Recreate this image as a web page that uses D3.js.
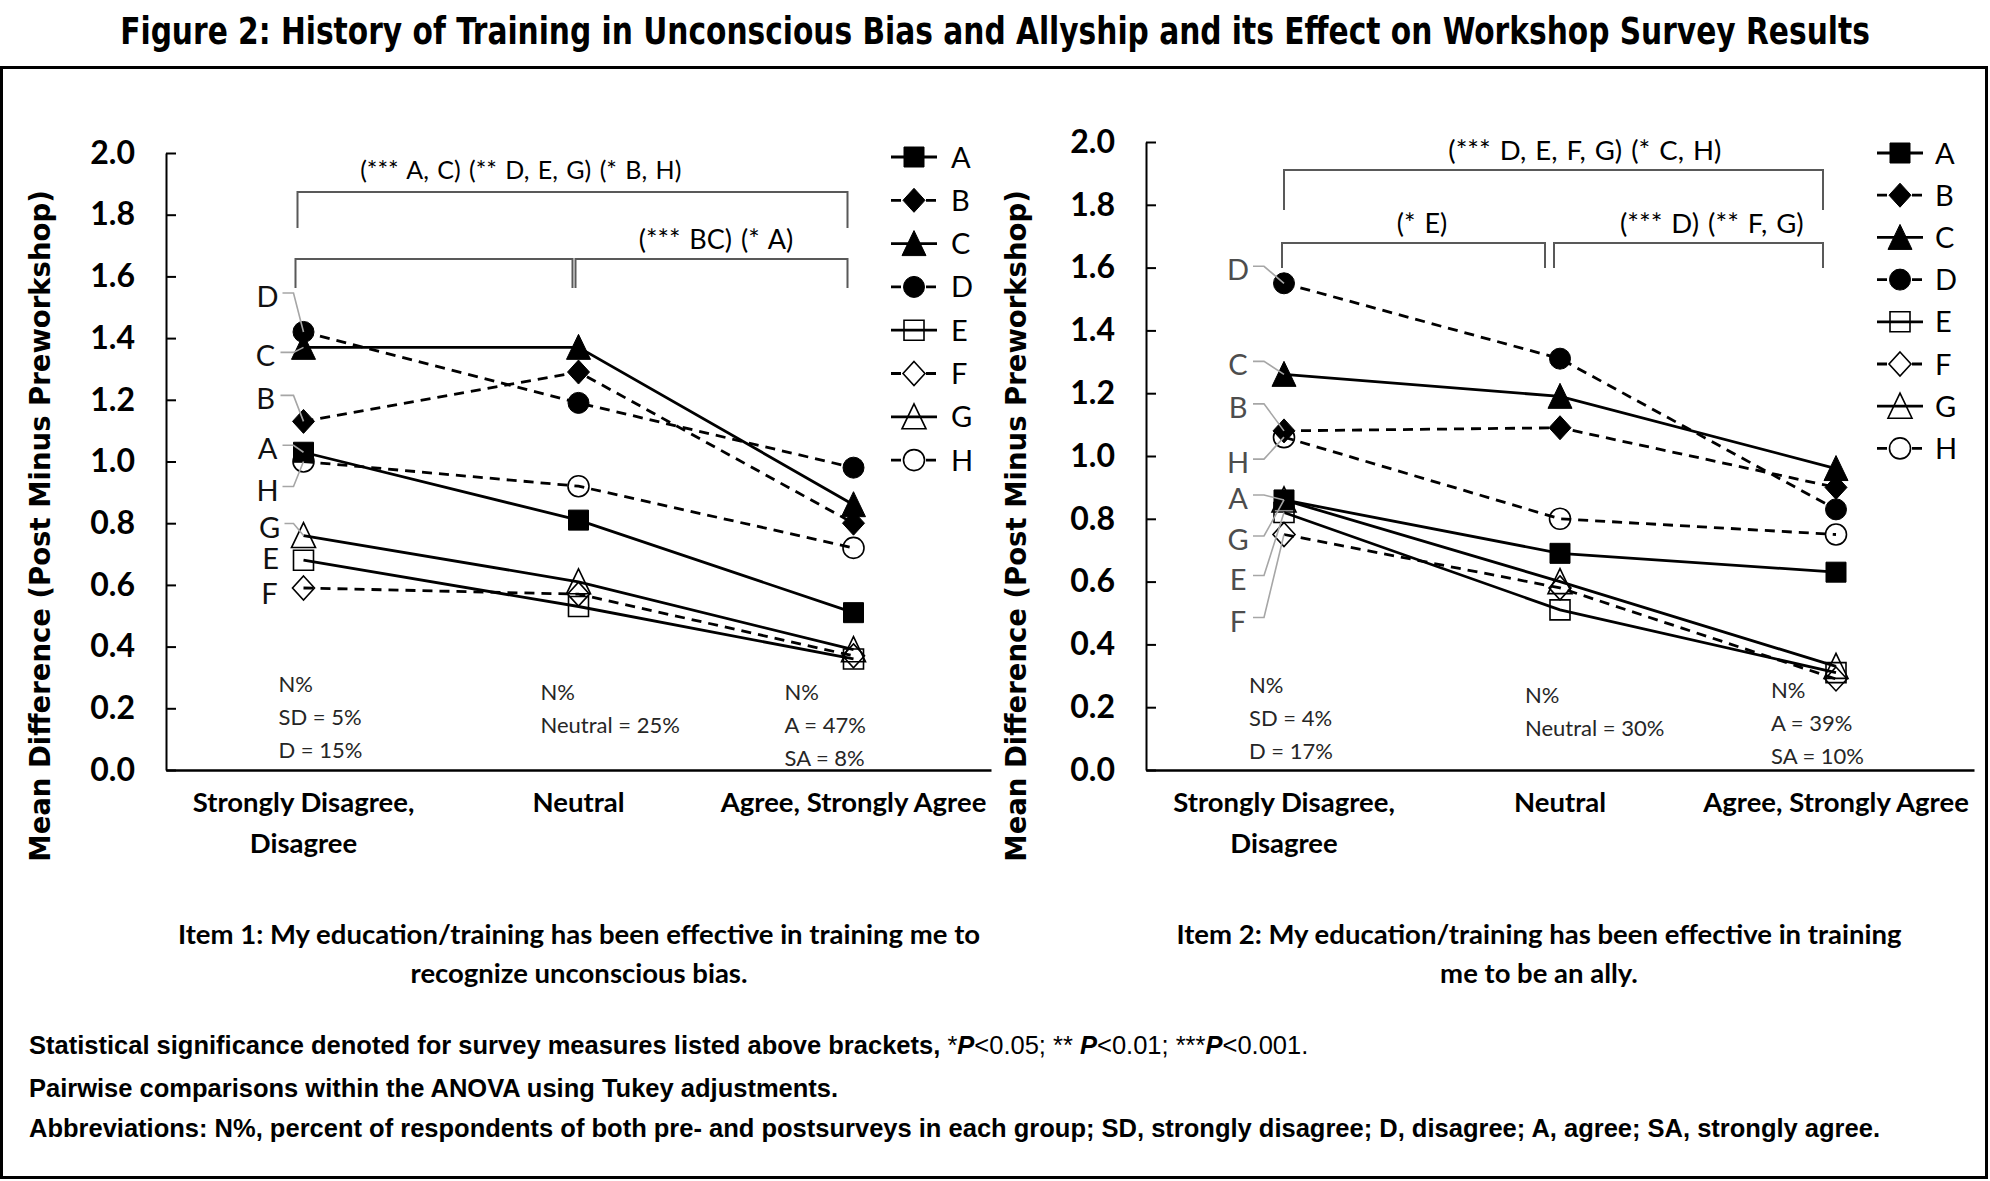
<!DOCTYPE html>
<html>
<head>
<meta charset="utf-8">
<script src="https://cdn.jsdelivr.net/npm/d3@7"></script>
<style>
  body { margin: 0; background: #fff; }
</style>
</head>
<body>
<svg id="fig" width="1990" height="1181"></svg>
<script>
const categories = [['Strongly Disagree,', 'Disagree'], ['Neutral'], ['Agree, Strongly Agree']];
const groups = ['A', 'B', 'C', 'D', 'E', 'F', 'G', 'H'];
const yTicks = [0, 0.2, 0.4, 0.6, 0.8, 1.0, 1.2, 1.4, 1.6, 1.8, 2.0];

// mean difference per group (A..H) at each response category
const item1SD      = [1.03, 1.13, 1.37, 1.42, 0.68, 0.59, 0.76, 1.00];
const item1Neutral = [0.81, 1.29, 1.37, 1.19, 0.53, 0.57, 0.61, 0.92];
const item1Agree   = [0.51, 0.80, 0.86, 0.98, 0.36, 0.37, 0.39, 0.72];

const item2SD      = [0.86, 1.08, 1.26, 1.55, 0.82, 0.75, 0.86, 1.06];
const item2Neutral = [0.69, 1.09, 1.19, 1.31, 0.51, 0.58, 0.60, 0.80];
const item2Agree   = [0.63, 0.90, 0.96, 0.83, 0.31, 0.29, 0.33, 0.75];

const item1Percent = [['N%', 'SD = 5%', 'D = 15%'], ['N%', 'Neutral = 25%'], ['N%', 'A = 47%', 'SA = 8%']];
const item2Percent = [['N%', 'SD = 4%', 'D = 17%'], ['N%', 'Neutral = 30%'], ['N%', 'A = 39%', 'SA = 10%']];

const item1Tests = ['(*** A, C) (** D, E, G) (* B, H)', '', '(*** BC) (* A)'];
const item2Tests = ['(*** D, E, F, G) (* C, H)', '(* E)', '(*** D) (** F, G)'];

const item1Caption = ['Item 1: My education/training has been effective in training me to', 'recognize unconscious bias.'];
const item2Caption = ['Item 2: My education/training has been effective in training', 'me to be an ally.'];

// marker / line style per group
const shape = ['square', 'diamond', 'triangle', 'circle', 'square', 'diamond', 'triangle', 'circle'];
const filled = [true, true, true, true, false, false, false, false];
const dashed = [false, true, false, true, false, true, false, true];

const svg = d3.select('#fig');
svg.append('rect').attr('width', 1990).attr('height', 1181).attr('fill', '#fff');

const LATO = 'Lato, "Open Sans", sans-serif';

function markerPath(kind) {
  if (kind === 'square') return 'M-10,-10H10V10H-10Z';
  if (kind === 'diamond') return 'M0,-12L11,0L0,12L-11,0Z';
  if (kind === 'triangle') return 'M0,-13L12,12H-12Z';
  return d3.arc()({innerRadius: 0, outerRadius: 10.5, startAngle: 0, endAngle: 2 * Math.PI});
}

function drawMarker(sel, i) {
  sel.append('path')
    .attr('d', markerPath(shape[i]))
    .attr('fill', filled[i] ? '#000' : 'none')
    .attr('stroke', '#000')
    .attr('stroke-width', filled[i] ? 1 : 1.6);
}

function drawPanel(p) {
  const x = d3.scalePoint().domain([0, 1, 2]).range([p.x0, p.x1]).padding(0.5);
  const y = d3.scaleLinear().domain([0, 2]).range([770, p.yTop]);
  const g = svg.append('g');

  // y axis, ticks pointing into the plot
  const yAxis = g.append('g')
    .attr('transform', `translate(${p.x0},0)`)
    .call(d3.axisLeft(y).tickValues(yTicks).tickFormat(d3.format('.1f'))
      .tickSize(-10).tickSizeOuter(0).tickPadding(31));
  yAxis.select('.domain').attr('stroke-width', 2);
  yAxis.selectAll('.tick line').attr('stroke-width', 2);
  yAxis.selectAll('text')
    .attr('font-family', LATO).attr('font-weight', 'bold').attr('font-size', 32).attr('fill', '#000');

  const xAxis = g.append('g')
    .attr('transform', 'translate(0,770)')
    .call(d3.axisBottom(x).tickSize(0).tickSizeOuter(0).tickFormat(''));
  xAxis.select('.domain').attr('stroke-width', 2.5);

  g.append('g').selectAll('text')
    .data(categories)
    .join('text')
    .attr('x', (d, i) => x(i))
    .attr('y', 812)
    .attr('text-anchor', 'middle')
    .attr('font-family', LATO).attr('font-weight', 'bold').attr('font-size', 27.5)
    .selectAll('tspan')
    .data(d => d)
    .join('tspan')
    .attr('x', function() { return this.parentNode.getAttribute('x'); })
    .attr('dy', (d, j) => j ? 41 : 0)
    .text(d => d);

  // y title
  g.append('text')
    .attr('transform', `translate(${p.titleX},526) rotate(-90)`)
    .attr('text-anchor', 'middle')
    .attr('font-family', '"DejaVu Sans", Verdana, sans-serif')
    .attr('font-weight', 'bold').attr('font-size', 27.5)
    .text('Mean Difference (Post Minus Preworkshop)');

  // significance brackets
  const br = g.append('g').attr('stroke', '#595959').attr('stroke-width', 2).attr('fill', 'none');
  p.brackets.forEach(b => {
    const xa = x(b.from) + b.dx[0], xb = x(b.to) + b.dx[1];
    br.append('path')
      .attr('d', `M${xa},${b.y + b.drop}V${b.y}H${xb}V${b.y + b.drop}`);
  });
  g.append('g').selectAll('text')
    .data(p.tests)
    .join('text')
    .attr('x', (d, i) => p.x0 + (p.x1 - p.x0) / 3 * (0.5 + p.testPos[i][0]))
    .attr('y', (d, i) => p.testPos[i][1])
    .attr('text-anchor', 'middle')
    .attr('font-family', LATO).attr('font-size', (d, i) => p.testPos[i][2])
    .attr('word-spacing', 2)
    .text(d => d);

  // response percentages
  p.percent.forEach((lines, c) => {
    g.append('g').selectAll('text')
      .data(lines)
      .join('text')
      .attr('x', x(c) + p.pctDx[c])
      .attr('y', (d, j) => p.pctY[c] + j * 33)
      .attr('font-family', LATO).attr('font-size', 22).attr('fill', '#262626')
      .text(d => d);
  });

  // lines
  const line = d3.line().x((d, i) => x(i)).y(d => y(d));
  const data = groups.map((name, i) => ({name, i, values: [p.sd[i], p.neutral[i], p.agree[i]]}));
  g.append('g').selectAll('path')
    .data(data)
    .join('path')
    .attr('d', d => line(d.values))
    .attr('fill', 'none')
    .attr('stroke', '#000')
    .attr('stroke-width', 2.8)
    .attr('stroke-dasharray', d => dashed[d.i] ? '10,7' : null);

  // markers
  data.forEach(d => {
    d.values.forEach((v, c) => {
      g.append('g').attr('transform', `translate(${x(c)},${y(v)})`).call(drawMarker, d.i);
    });
  });

  // point labels at first category, with grey leaders
  data.forEach(d => {
    const mx = x(0), my = y(d.values[0]);
    const [dx, dy, lead] = p.labels[d.i];
    const lx = mx + dx, ly = my + dy;
    if (lead) {
      g.append('path')
        .attr('d', `M${lx + p.leadStart},${ly - 3}H${mx + p.leadElbow}L${mx},${my}`)
        .attr('fill', 'none').attr('stroke', '#a6a6a6').attr('stroke-width', 1.6);
    }
    g.append('text')
      .attr('x', lx).attr('y', ly + 11)
      .attr('text-anchor', 'middle')
      .attr('font-family', LATO).attr('font-size', 29).attr('fill', p.labelColor)
      .text(d.name);
  });

  // legend
  const lg = g.append('g').selectAll('g')
    .data(groups)
    .join('g')
    .attr('transform', (d, i) => `translate(${p.legX},${p.legY + i * p.legStep})`);
  lg.append('line')
    .attr('x1', p.legLine[0]).attr('x2', p.legLine[1])
    .attr('stroke', '#000').attr('stroke-width', 2.8)
    .attr('stroke-dasharray', (d, i) => dashed[i] ? '10,25,10' : null);
  lg.each(function(d, i) { d3.select(this).append('g').call(drawMarker, i); });
  lg.append('text')
    .attr('x', p.legText).attr('y', 10.5)
    .attr('font-family', LATO).attr('font-size', 29)
    .text(d => d);

  // caption under the chart
  g.append('g').selectAll('text')
    .data(p.caption)
    .join('text')
    .attr('x', p.captionX)
    .attr('y', (d, i) => 944 + i * 39)
    .attr('text-anchor', 'middle')
    .attr('font-family', LATO).attr('font-weight', 'bold').attr('font-size', 27.5)
    .text(d => d);
}

drawPanel({
  x0: 166, x1: 991, yTop: 153, titleX: 50,
  sd: item1SD, neutral: item1Neutral, agree: item1Agree,
  percent: item1Percent, pctDx: [-25, -38, -69], pctY: [692, 700, 700],
  tests: item1Tests, testPos: [[0.79, 179, 25], [0, 0, 25], [1.5, 249, 27]],
  brackets: [
    {from: 0, to: 2, y: 192, drop: 36, dx: [-6, -6]},
    {from: 0, to: 1, y: 259, drop: 29, dx: [-8, -6]},
    {from: 1, to: 2, y: 259, drop: 29, dx: [-3, -6]}
  ],
  labels: [[-36, -4, true], [-38, -23, true], [-38, 8, true], [-36, -36, true],
           [-33, -2, false], [-34, 5, false], [-34, -9, true], [-36, 28, true]],
  leadStart: 15, leadElbow: -10, labelColor: '#111',
  legX: 914, legY: 157, legStep: 43.3, legLine: [-23, 23], legText: 37,
  caption: item1Caption, captionX: 579
});

drawPanel({
  x0: 1146, x1: 1974, yTop: 142, titleX: 1026,
  sd: item2SD, neutral: item2Neutral, agree: item2Agree,
  percent: item2Percent, pctDx: [-35, -35, -65], pctY: [693, 703, 698],
  tests: item2Tests, testPos: [[1.09, 160, 27.5], [0.5, 233, 27], [1.55, 233, 27.5]],
  brackets: [
    {from: 0, to: 2, y: 170, drop: 40, dx: [0, -13]},
    {from: 0, to: 1, y: 243, drop: 25, dx: [-2, -15]},
    {from: 1, to: 2, y: 243, drop: 25, dx: [-6, -13]}
  ],
  labels: [[-46, -2, true], [-46, -24, true], [-46, -10, true], [-46, -14, true],
           [-46, 66, true], [-46, 86, true], [-46, 39, true], [-46, 25, true]],
  leadStart: 15, leadElbow: -20, labelColor: '#4d4d4d',
  legX: 1900, legY: 153, legStep: 42.2, legLine: [-23, 23], legText: 35,
  caption: item2Caption, captionX: 1539
});

// frame, title and notes
svg.append('rect')
  .attr('x', 1.5).attr('y', 67.5).attr('width', 1985).attr('height', 1110)
  .attr('fill', 'none').attr('stroke', '#000').attr('stroke-width', 3);

// condensed heading: measure, then squeeze horizontally to the reference width
const title = svg.append('text')
  .attr('text-anchor', 'middle')
  .attr('font-family', '"Liberation Sans Narrow", "DejaVu Sans Condensed", sans-serif')
  .attr('font-weight', 'bold').attr('font-size', 37)
  .text('Figure 2: History of Training in Unconscious Bias and Allyship and its Effect on Workshop Survey Results');
const titleWidth = title.node().getComputedTextLength();
title.attr('transform', `translate(995,44) scale(${Math.min(1, 1750 / titleWidth)},1)`);

const notes = svg.append('g')
  .attr('font-family', '"Liberation Sans", Arial, sans-serif')
  .attr('font-weight', 'bold').attr('font-size', 25.5);

const sig = notes.append('text').attr('x', 29).attr('y', 1054);
sig.append('tspan').text('Statistical significance denoted for survey measures listed above brackets, ');
[['*', 'P', '<0.05; '], ['** ', 'P', '<0.01; '], ['***', 'P', '<0.001.']].forEach(([a, b, c]) => {
  sig.append('tspan').attr('font-weight', 'normal').text(a);
  sig.append('tspan').attr('font-style', 'italic').text(b);
  sig.append('tspan').attr('font-weight', 'normal').text(c);
});
notes.append('text').attr('x', 29).attr('y', 1097)
  .text('Pairwise comparisons within the ANOVA using Tukey adjustments.');
notes.append('text').attr('x', 29).attr('y', 1137)
  .text('Abbreviations: N%, percent of respondents of both pre- and postsurveys in each group; SD, strongly disagree; D, disagree; A, agree; SA, strongly agree.');
</script>
</body>
</html>
